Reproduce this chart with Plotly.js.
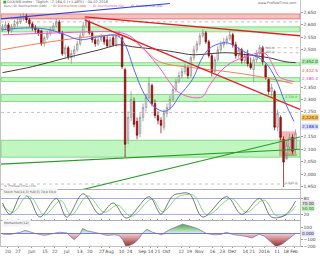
<!DOCTYPE html>
<html><head><meta charset="utf-8">
<script src="https://cdn.plot.ly/plotly-3.0.1.min.js"></script>
<style>html,body{margin:0;padding:0;background:#fff}#c{width:320px;height:256px}</style>
</head><body><div id="c"></div>
<script>
// ---- price candles (index positions 0..98) ----
const openP = [2580,2588,2600,2576,2592,2604,2612,2628,2636,2620,
 2604,2588,2580,2576,2524,2548,2564,2580,2596,2612,
 2568,2484,2508,2468,2484,2500,2524,2556,2596,2612,
 2568,2540,2524,2540,2552,2540,2516,2548,2520,2556,
 2548,2420,2140,2228,2292,2212,2164,2228,2268,2308,
 2356,2284,2236,2216,2188,2244,2268,2300,2340,2372,
 2396,2412,2428,2396,2468,2500,2524,2556,2568,2532,
 2476,2412,2460,2500,2520,2532,2544,2560,2520,2476,
 2500,2456,2484,2444,2420,2460,2484,2508,2436,2380,
 2332,2332,2188,2228,2140,2060,2108,2148,2100];
const highP = [2604,2616,2608,2604,2620,2628,2644,2648,2644,2628,
 2612,2600,2588,2580,2556,2576,2592,2608,2624,2620,
 2576,2520,2516,2500,2516,2536,2568,2612,2632,2620,
 2576,2552,2552,2564,2560,2556,2552,2560,2564,2576,
 2556,2428,2252,2332,2308,2228,2244,2284,2324,2392,
 2364,2300,2252,2228,2260,2284,2316,2356,2384,2412,
 2428,2444,2436,2476,2516,2536,2568,2584,2576,2540,
 2484,2472,2516,2536,2548,2556,2576,2568,2532,2512,
 2508,2492,2500,2468,2472,2500,2520,2516,2444,2388,
 2364,2340,2260,2236,2152,2132,2164,2160,2180];
const lowP = [2572,2580,2564,2568,2584,2592,2604,2616,2608,2592,
 2576,2568,2556,2516,2512,2540,2556,2572,2588,2564,
 2476,2468,2460,2444,2468,2492,2516,2548,2588,2560,
 2528,2512,2516,2532,2520,2508,2508,2512,2512,2548,
 2424,2068,2120,2212,2188,2140,2148,2212,2252,2300,
 2272,2224,2200,2164,2176,2228,2256,2292,2328,2364,
 2384,2400,2384,2388,2456,2488,2516,2548,2524,2468,
 2392,2404,2452,2488,2508,2520,2536,2508,2464,2464,
 2444,2444,2432,2420,2368,2448,2476,2440,2380,2320,
 2308,2176,2172,2136,1948,2088,2092,2080,2084];
const closeP = [2588,2600,2576,2592,2604,2612,2628,2636,2620,2604,
 2588,2580,2568,2524,2548,2564,2580,2596,2612,2572,
 2484,2508,2472,2484,2500,2524,2556,2596,2612,2568,
 2540,2524,2540,2552,2532,2516,2540,2520,2556,2564,
 2432,2120,2228,2300,2200,2156,2228,2268,2308,2364,
 2284,2236,2216,2196,2244,2268,2300,2340,2372,2396,
 2412,2432,2396,2468,2500,2524,2556,2568,2532,2476,
 2412,2460,2500,2520,2532,2544,2560,2520,2476,2500,
 2456,2476,2444,2428,2460,2484,2508,2452,2388,2332,
 2348,2188,2244,2148,2048,2116,2148,2092,2164];

// ---- moving averages ----
const ma20X = [0,9,16,21,26,32,38.5,41,44,47.5,51,54,56.5,59,63.5,67,70,75,78,81.5,85,88,91.5,94.5,97.5];
const ma20Y = [2580,2588,2580,2560,2540,2552,2556,2520,2420,2320,2268,2252,2268,2312,2380,2472,2512,2528,2512,2488,2472,2448,2380,2288,2212];
const ma50X = [0,9,19,29,37.5,42.5,47.5,52.5,56,59,63.5,67,69,72.5,76.5,81.5,86,88,90,92.5,94.5,97.5];
const ma50Y = [2560,2564,2568,2572,2572,2556,2500,2428,2368,2328,2308,2312,2352,2408,2448,2472,2488,2484,2448,2392,2380,2372];
const ma100X = [0,16,32.5,41,47.5,52.5,63.5,75,86,97];
const ma100Y = [2500,2532,2556,2556,2500,2452,2428,2412,2392,2364];
const ma200X = [0,10,21.5,32.5,39,43.5,52.5,59,63.5,75,81.5,89,94.5,98];
const ma200Y = [2408,2432,2468,2500,2520,2512,2500,2488,2480,2488,2480,2468,2452,2448];

// ---- trend lines ----
const redTopX = [27.5,99.5], redTopY = [2632,2556];
const redSteepX = [27.5,99.5], redSteepY = [2620,2260];
const blueTopX = [-0.5,56], blueTopY = [2624,2686];
const greenSteepX = [24.8,99.5], greenSteepY = [1932,2149];
const greenFlatX = [-0.5,99.5], greenFlatY = [2040,2100];

// ---- support / resistance zones ----
const zoneLo = [2624,2572,2436,2372,2292,2068];
const zoneHi = [2644,2592,2448,2388,2320,2136];
const zoneKind = ['r','g','g','g','g','g'];
const boxX = [92.5,98.2], boxY = [2072,2172];
const dotLevels = [2612,2248,1960];
const shortLevels = [2508,2488];

// ---- stochastic ----
const kX = [0,2.5,6.5,9,12.5,18,21.5,27,32.5,37,41.5,49,52,53,57,59,62.5,67,75,80,86,90,94.5,98];
const kY = [63,20,98,80,10,80,10,98,20,63,6,87,34,20,91,98,98,10,87,20,80,10,17,70];
const dX = [0,3.5,8,10,14,19.5,23,28.5,34,38.5,43,50,53.5,58.5,61,64,68.5,76.5,81.5,87.5,91.5,95,98];
const dY = [55,28,88,80,18,72,18,90,28,55,12,78,30,85,94,92,18,80,28,74,16,18,50];

// ---- momentum ----
const mX = [0,2.5,6,7.5,9,11,14,16,19,21.5,24,25.8,26.8,28.5,31,32.5,35,37.5,39,40.2,41.2,42.5,44.2,45.8,46.8,48.2,50.2,51.8,53.2,55.8,58.2,60.2,62.5,65.2,68.2,70.8,73.2,74.8,77.5,80.8,83.5,85.8,87.5,89.2,91.5,93.5,95.8,98];
const mY = [-10,-15,20,50,30,0,-30,-10,20,10,-100,-20,80,40,20,0,-30,-20,-30,-100,-200,-190,-150,-70,0,70,20,0,-20,60,110,150,120,80,0,-20,-15,20,-20,-40,-70,-10,-40,-120,-210,-170,-90,0];

// ---- axis labels ----
const xTickPos = [1.8,5.2,9.8,14.2,17.5,21.5,25.8,29.2,33.2,35.8,39.8,42.5,46.8,49.5,51.8,54.8,59.8,62.5,65.8,70.2,73.5,76.8,81.2,83.5,87.5,91.8,94.8,97.5];
const xTickText = ['20','27','Jun','15','22','Jul','13','20','27','Aug','10','24','Sep','14','21','Okt','12','19','Nov','16','23','Dez','14','21','2016','11','18','Feb'];
const priceTicks = [1950,2000,2050,2100,2150,2250,2300,2350,2500,2550,2600,2650];

const idx = closeP.map((_, i) => i);
const F = 'DejaVu Sans, sans-serif';
const H = 246;
const py = p => 1 - p / H;

const traces = [];
function line(x, y, color, w, ya, extra) {
  traces.push(Object.assign({type:'scatter', mode:'lines', x:x, y:y, yaxis:ya||'y', xaxis:'x',
    line:{color:color, width:w}, hoverinfo:'skip', showlegend:false}, extra||{}));
}
dotLevels.forEach(v => line([-0.5,99.5],[v,v],'#999',0.6,'y',{line:{color:'#999',width:0.6,dash:'dot'}}));
shortLevels.forEach(v => line([86,99.5],[v,v],'#999',0.6,'y',{line:{color:'#999',width:0.6,dash:'dot'}}));
line(ma200X, ma200Y, '#4d3b3b', 1, 'y', {line:{color:'#4d3b3b',width:1,shape:'spline'}});
line(ma100X, ma100Y, '#f08060', 1, 'y', {line:{color:'#f08060',width:1,shape:'spline'}});
line(ma50X, ma50Y, '#ff55cc', 1, 'y', {line:{color:'#ff55cc',width:1,shape:'spline'}});
line(ma20X, ma20Y, '#5566ff', 1, 'y', {line:{color:'#5566ff',width:1,shape:'spline'}});
line(redTopX, redTopY, '#e02020', 1.4);
line(redSteepX, redSteepY, '#e02020', 1.4);
line(blueTopX, blueTopY, '#3344dd', 1.2);
line(greenSteepX, greenSteepY, '#2a9a2a', 1.1);
line(greenFlatX, greenFlatY, '#2a9a2a', 1.1);

traces.push({type:'candlestick', x:idx, open:openP, high:highP, low:lowP, close:closeP,
  xaxis:'x', yaxis:'y', hoverinfo:'skip', showlegend:false, whiskerwidth:0,
  increasing:{line:{color:'#8a8a8a', width:0.7}, fillcolor:'#efefef'},
  decreasing:{line:{color:'#7a0000', width:0.7}, fillcolor:'#b01818'}});

// stochastic
line([-0.5,99.5],[80,80],'#a8a8ee',1,'y2');
line([-0.5,99.5],[20,20],'#a8a8ee',1,'y2');
line(dX, dY, '#66cc66', 0.8, 'y2', {line:{color:'#66cc66',width:0.8,shape:'spline'}});
line(kX, kY, '#555555', 0.8, 'y2', {line:{color:'#555555',width:0.8,shape:'spline'}});

// momentum
const mPos = mY.map(v => Math.max(v, 0));
const mNeg = mY.map(v => Math.min(v, 0));
traces.push({type:'scatter', mode:'lines', x:mX, y:mPos, xaxis:'x', yaxis:'y3', fill:'tozeroy',
  line:{width:0, color:'rgba(0,0,0,0)'}, fillcolor:'rgba(90,180,90,0.75)', hoverinfo:'skip', showlegend:false,
  fillgradient:{type:'vertical', start:0, stop:160, colorscale:[[0,'rgba(210,245,210,0.9)'],[1,'rgba(60,150,60,0.95)']]}});
traces.push({type:'scatter', mode:'lines', x:mX, y:mNeg, xaxis:'x', yaxis:'y3', fill:'tozeroy',
  line:{width:0, color:'rgba(0,0,0,0)'}, fillcolor:'rgba(170,50,50,0.8)', hoverinfo:'skip', showlegend:false,
  fillgradient:{type:'vertical', start:-220, stop:0, colorscale:[[0,'rgba(140,20,20,0.95)'],[1,'rgba(240,200,200,0.9)']]}});
line([-0.5,99.5],[0,0],'#7a7aee',1,'y3');
line(mX, mY, '#806a9a', 0.7, 'y3');

const shapes = [];
zoneLo.forEach((lo, i) => {
  const red = zoneKind[i] === 'r';
  shapes.push({type:'rect', xref:'paper', x0:0, x1:1, yref:'y', y0:lo, y1:zoneHi[i], layer:'below',
    fillcolor: red ? 'rgba(240,140,140,0.55)' : 'rgba(150,240,150,0.6)',
    line:{color: red ? 'rgba(220,80,80,0.9)' : 'rgba(90,200,90,0.9)', width:0.7}});
});
shapes.push({type:'rect', xref:'x', x0:boxX[0], x1:boxX[1], yref:'y', y0:boxY[0], y1:boxY[1], layer:'below',
  fillcolor:'rgba(230,110,110,0.5)', line:{width:0}});

const ann = [];
function txt(x, ypx, t, color, size, anchor, extra) {
  ann.push(Object.assign({xref:'paper', yref:'paper', x:x, y:py(ypx), text:t, showarrow:false,
    xanchor:anchor||'left', yanchor:'middle', font:{family:F, size:size||3.6, color:color||'#555'}}, extra||{}));
}
const W = 299;
txt(0.3/W, 2.3, '<b>■</b>', '#3a3', 3.6);
txt(4/W, 2.3, 'DAX/NB-Index - Täglich - 2.164,0 (+1,48%) - 04.02.2016', '#666', 3.6);
txt(1/W, 6.3, 'Kurs | Gl. Durchschnitt (200)', '#555', 3);
txt(50/W, 6.3, 'Gl. Durchschnitt (100)', '#e04040', 3);
txt(90/W, 6.3, 'Gl. Durchschnitt (50)', '#e040c0', 3);
txt(128/W, 6.3, 'Gl. Durchschnitt (20)', '#4050e0', 3);
txt(298/W, 3, 'www.ProRealTime.com', '#666', 3.4, 'right');
txt(1/W, 185.5, '© ProRealTime.com', '#777', 3.2);
txt(1/W, 191.5, 'Stoch %K(14,3) %D(3) 70,0 50,0', '#555', 3.2, 'left', {bgcolor:'#f4f4f4'});
txt(1/W, 222.5, 'Momentum(12)', '#555', 3.2, 'left', {bgcolor:'#f4f4f4'});
txt(275/W, 47.5, '2,508.0', '#888', 3.2, 'right');
txt(275/W, 52.5, '2,488.0', '#888', 3.2, 'right');
txt(298/W, 183, '2,048.0', '#888', 3.2, 'right');
txt(298/W, 155, '2,068.0', '#3a3', 3.2, 'right');
txt(298/W, 97, '2,320.0', '#3a3', 3.2, 'right');

function rlab(ypx, t, bg, col) {
  ann.push({xref:'paper', yref:'paper', x:1, xshift:1, y:py(ypx), text:t, showarrow:false, xanchor:'left', yanchor:'middle',
    bgcolor:bg, font:{family:F, size:4.2, color:col}, borderpad:0});
}
rlab(61.5, '2,452.0', '#aef0ae', '#225522');
rlab(70.5, '2,412.5', '#fff', '#e03030');
rlab(78.5, '2,380.4', '#fff', '#e040c0');
rlab(117, '2,224.0', '#f6c060', '#553300');
rlab(126, '2,188.6', '#d8dcff', '#2233cc');
rlab(203.3, '70.00', '#e0e0e0', '#333');
rlab(208.6, '50.00', '#c8f0c8', '#226622');
rlab(233, '0.000', '#e0e0f8', '#333');

const axFont = {family:F, size:4.4, color:'#444'};
const layout = {
  width:320, height:256, margin:{l:1, r:20, t:0, b:10}, paper_bgcolor:'#fff', plot_bgcolor:'#fff',
  showlegend:false, dragmode:false,
  xaxis:{range:[-0.5,99.5], anchor:'y3', tickvals:xTickPos, ticktext:xTickText, tickfont:axFont, tickangle:0,
    showgrid:false, zeroline:false, showline:true, mirror:'all', linecolor:'#aaa', linewidth:0.7,
    ticks:'outside', ticklen:1, tickcolor:'#999', rangeslider:{visible:false}, fixedrange:true},
  yaxis:{domain:[57/H,1], range:[1940,2700], side:'right', tickvals:priceTicks, tickformat:',.0f',
    tickfont:axFont, showgrid:false, zeroline:false, showline:true, mirror:true, linecolor:'#aaa', linewidth:0.7,
    ticks:'outside', ticklen:2, tickcolor:'#999', fixedrange:true},
  yaxis2:{domain:[26/H,56/H], range:[-1,112], side:'right', tickvals:[20,80], tickfont:axFont,
    showgrid:false, zeroline:false, showline:true, mirror:true, linecolor:'#aaa', linewidth:0.7,
    ticks:'outside', ticklen:2, tickcolor:'#999', fixedrange:true},
  yaxis3:{domain:[0,25/H], range:[-200,200], side:'right', tickvals:[-200,-100,100], tickfont:axFont,
    showgrid:false, zeroline:false, showline:true, mirror:true, linecolor:'#aaa', linewidth:0.7,
    ticks:'outside', ticklen:2, tickcolor:'#999', fixedrange:true},
  shapes:shapes, annotations:ann
};
Plotly.newPlot('c', traces, layout, {staticPlot:true, displayModeBar:false});
</script></body></html>
